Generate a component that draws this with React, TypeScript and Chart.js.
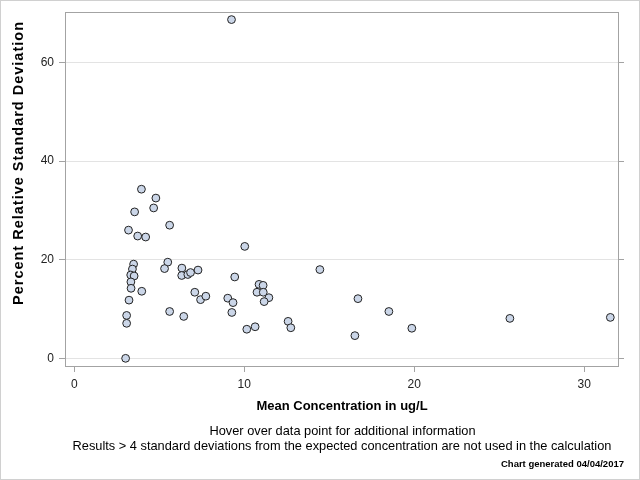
import React, { useEffect, useRef } from "react";
import { Chart, registerables } from "chart.js";

Chart.register(...registerables);

// Mean concentration (ug/L) for each sample
const concentration = [
  9.25, 3.95, 4.8, 3.55, 4.67, 3.19, 5.61, 3.73, 4.2, 10.03,
  3.49, 3.42, 3.32, 3.52, 3.33, 3.34, 3.97, 3.22, 3.08, 3.08,
  3.02, 5.5, 5.31, 6.33, 6.32, 6.68, 6.84, 7.28, 9.44, 14.45,
  10.87, 11.11, 10.75, 11.12, 11.45, 11.17, 7.09, 7.43, 7.74, 9.03,
  9.34, 9.27, 5.61, 6.44, 10.15, 10.64, 12.58, 12.74, 16.69, 16.51,
  18.51, 19.86, 25.63, 31.54,
];

// Percent relative standard deviation for each sample
const rsd = [
  68.7, 34.3, 32.5, 29.7, 30.5, 26.0, 27.0, 24.8, 24.6, 22.7,
  19.1, 18.1, 16.9, 16.7, 15.5, 14.2, 13.6, 11.8, 8.7, 7.1,
  0.0, 19.5, 18.2, 18.3, 16.8, 17.0, 17.4, 17.9, 16.5, 18.0,
  15.0, 14.8, 13.4, 13.4, 12.3, 11.5, 13.4, 11.9, 12.6, 12.2,
  11.3, 9.3, 9.5, 8.5, 5.9, 6.4, 7.5, 6.2, 12.1, 4.6,
  9.5, 6.1, 8.1, 8.3,
];

const xTicks = [0, 10, 20, 30];
const yTicks = [0, 20, 40, 60];

const xTitle = "Mean Concentration in ug/L";
const yTitle = "Percent Relative Standard Deviation";
const footnotes = [
  "Hover over data point for additional information",
  "Results > 4 standard deviations from the expected concentration are not used in the calculation",
];
const generatedNote = "Chart generated 04/04/2017";

const FONT = "'Liberation Sans', Arial, Helvetica, sans-serif";
const BOX = "#a3a3a3";

const framePlugin = {
  id: "frame",
  beforeDatasetsDraw(chart: any) {
    const { ctx, chartArea } = chart;
    const l = Math.round(chartArea.left) + 0.5;
    const t = Math.round(chartArea.top) + 0.5;
    const r = Math.round(chartArea.right) - 0.5;
    const b = Math.round(chartArea.bottom) - 0.5;
    ctx.save();
    ctx.strokeStyle = BOX;
    ctx.lineWidth = 1;
    ctx.strokeRect(l, t, r - l, b - t);
    ctx.restore();
  },
  afterDraw(chart: any) {
    const { ctx, width, height } = chart;
    ctx.save();
    // outer border
    ctx.strokeStyle = "#d0d0d0";
    ctx.lineWidth = 1;
    ctx.strokeRect(0.5, 0.5, width - 1, height - 1);

    // y title
    ctx.save();
    ctx.fillStyle = "#000";
    ctx.font = `bold 14.5px ${FONT}`;
    (ctx as any).letterSpacing = "1px";
    ctx.textAlign = "center";
    ctx.textBaseline = "middle";
    ctx.translate(18.5, 163);
    ctx.rotate(-Math.PI / 2);
    ctx.fillText(yTitle, 0, 0);
    ctx.restore();

    // footnotes
    ctx.font = `12.8px ${FONT}`;
    ctx.fillStyle = "#000";
    ctx.textAlign = "center";
    ctx.textBaseline = "middle";
    ctx.fillText(footnotes[0], 342.5, 431);
    ctx.fillText(footnotes[1], 342, 446);

    ctx.font = `bold 9.5px ${FONT}`;
    ctx.textAlign = "right";
    ctx.fillText(generatedNote, 624, 464.5);
    ctx.restore();
  },
};

export default function App() {
  const ref = useRef<HTMLCanvasElement | null>(null);

  useEffect(() => {
    if (!ref.current) return;
    const points = concentration.map((x, i) => ({ x, y: rsd[i] }));
    const chart = new Chart(ref.current, {
      type: "scatter",
      data: {
        datasets: [
          {
            data: points,
            backgroundColor: "#cbd6e8",
            borderColor: "#222222",
            borderWidth: 1,
            pointRadius: 3.9,
            pointHoverRadius: 3.9,
          },
        ],
      },
      options: {
        responsive: false,
        animation: false,
        devicePixelRatio: 1,
        layout: { padding: { left: 0, top: 12, right: 0, bottom: 63 } },
        plugins: {
          legend: { display: false },
          tooltip: { enabled: true },
        },
        scales: {
          x: {
            type: "linear",
            position: "bottom",
            min: -0.547,
            max: 32.05,
            afterBuildTicks: (scale: any) => {
              scale.ticks = xTicks.map((v) => ({ value: v }));
            },
            afterFit: (scale: any) => {
              scale.height = 50;
            },
            border: { display: false },
            grid: {
              drawOnChartArea: false,
              drawTicks: true,
              tickLength: 5,
              tickColor: BOX,
            },
            ticks: {
              color: "#222",
              font: { family: FONT, size: 12 },
              padding: 5,
              maxRotation: 0,
            },
            title: {
              display: true,
              text: xTitle,
              color: "#000",
              font: { family: FONT, size: 13, weight: "bold" },
              padding: { top: 0, bottom: 3.2 },
            },
          },
          y: {
            type: "linear",
            position: "left",
            min: -1.76,
            max: 70.2,
            afterBuildTicks: (scale: any) => {
              scale.ticks = yTicks.map((v) => ({ value: v }));
            },
            afterFit: (scale: any) => {
              scale.width = 65;
            },
            border: { display: false },
            grid: {
              color: "#e3e3e3",
              drawTicks: true,
              tickLength: 6,
              tickColor: BOX,
            },
            ticks: {
              color: "#222",
              font: { family: FONT, size: 12 },
              padding: 5,
            },
          },
          y2: {
            type: "linear",
            position: "right",
            min: -1.76,
            max: 70.2,
            afterBuildTicks: (scale: any) => {
              scale.ticks = yTicks.map((v) => ({ value: v }));
            },
            afterFit: (scale: any) => {
              scale.width = 21;
            },
            border: { display: false },
            grid: {
              drawOnChartArea: false,
              drawTicks: true,
              tickLength: 5,
              tickColor: BOX,
            },
            ticks: { display: false },
          },
        },
      },
      plugins: [framePlugin],
    });
    return () => chart.destroy();
  }, []);

  return (
    <div style={{ position: "fixed", left: 0, top: 0, width: 640, height: 480, background: "#fff" }}>
      <canvas ref={ref} width={640} height={480} style={{ display: "block" }} />
    </div>
  );
}
